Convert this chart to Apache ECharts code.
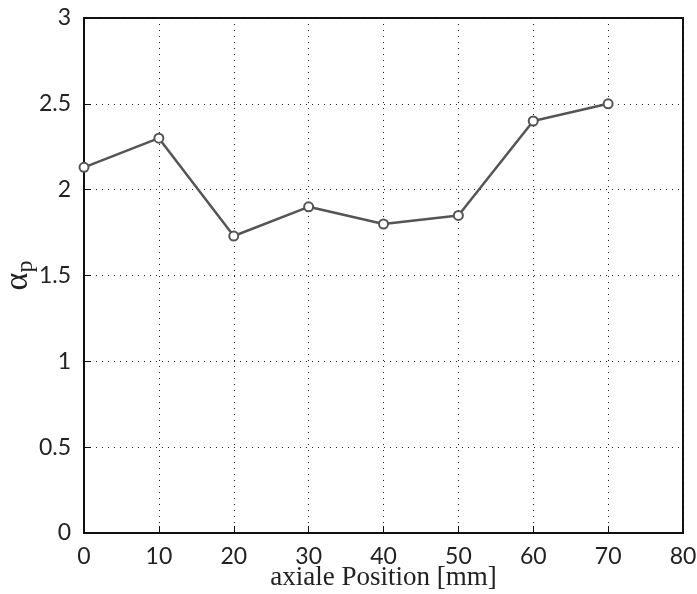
<!DOCTYPE html>
<html>
<head>
<meta charset="utf-8">
<script src="https://cdn.jsdelivr.net/npm/echarts@6/dist/echarts.min.js"></script>
<style>
  html, body { margin: 0; padding: 0; background: #fff; }
  #chart { width: 697px; height: 594px; }
</style>
</head>
<body>
<div id="chart"></div>
<script>
// axial measurement positions [mm] and the alpha_p value at each
const positions = [0, 10, 20, 30, 40, 50, 60, 70];
const alphaP = [2.13, 2.3, 1.73, 1.9, 1.8, 1.85, 2.4, 2.5];

const xTicks = { min: 0, max: 80, interval: 10 };
const yTicks = { min: 0, max: 3, interval: 0.5 };

const tickFont = 'Lato, "Open Sans", sans-serif';
const labelFont = '"Liberation Serif", "DejaVu Serif", serif';

const chart = echarts.init(document.getElementById('chart'), null, { renderer: 'canvas' });

const dotted = { show: true, lineStyle: { color: '#222', type: [1, 5], width: 1 } };

chart.setOption({
  animation: false,
  backgroundColor: '#fff',
  grid: {
    left: 84, right: 14, top: 18, bottom: 61,
    outerBoundsMode: 'none', containLabel: false,
    show: true, borderColor: '#111', borderWidth: 2
  },
  xAxis: {
    type: 'value',
    min: xTicks.min, max: xTicks.max, interval: xTicks.interval,
    name: 'axiale Position [mm]',
    nameLocation: 'middle',
    nameMoveOverlap: false,
    nameGap: 31,
    nameTextStyle: { fontFamily: labelFont, fontSize: 27, color: '#222' },
    axisLine: { show: true, onZero: false, lineStyle: { color: '#111', width: 2 } },
    axisTick: { show: true, inside: true, length: 7, lineStyle: { color: '#111', width: 1 } },
    axisLabel: { fontFamily: tickFont, fontSize: 23, color: '#222', margin: 12 },
    splitLine: dotted
  },
  yAxis: {
    type: 'value',
    min: yTicks.min, max: yTicks.max, interval: yTicks.interval,
    name: '{a|α}{p|p}',
    nameLocation: 'middle',
    nameMoveOverlap: false,
    nameGap: 46,
    nameRotate: 90,
    nameTextStyle: {
      rich: {
        a: { fontFamily: labelFont, fontSize: 34, color: '#222' },
        p: { fontFamily: labelFont, fontSize: 24, color: '#222', padding: [16, 0, 0, 0] }
      }
    },
    axisLine: { show: true, lineStyle: { color: '#111', width: 2 } },
    axisTick: { show: true, inside: true, length: 7, lineStyle: { color: '#111', width: 1 } },
    axisLabel: {
      fontFamily: tickFont, fontSize: 23, color: '#222', margin: 13,
      formatter: v => String(v)
    },
    splitLine: dotted
  },
  series: [{
    type: 'line',
    data: positions.map((x, i) => [x, alphaP[i]]),
    symbol: 'circle',
    symbolSize: 9,
    showAllSymbol: true,
    lineStyle: { color: '#555', width: 2.5 },
    itemStyle: { color: '#fff', borderColor: '#555', borderWidth: 2 }
  }]
});
</script>
</body>
</html>
